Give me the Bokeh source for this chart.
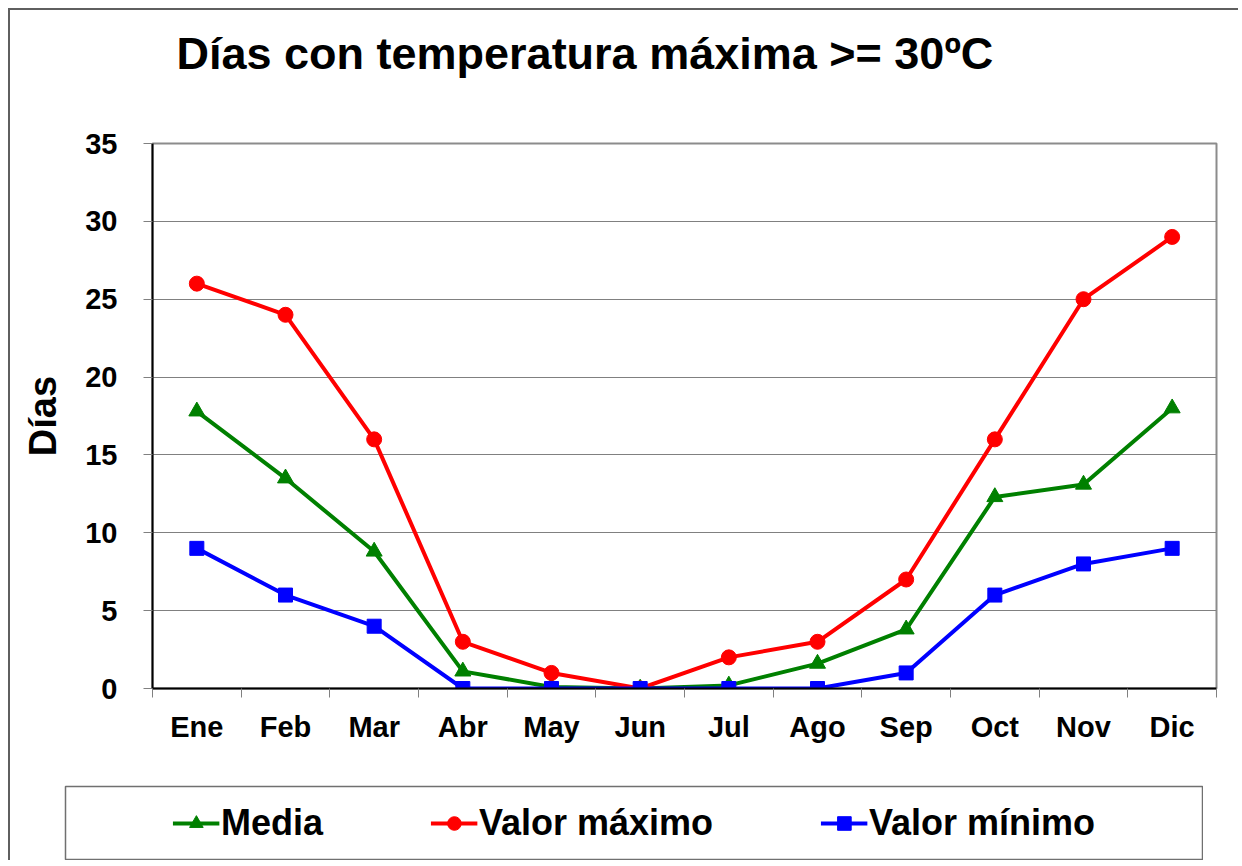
from bokeh.plotting import figure
from bokeh.layouts import column
from bokeh.models import FixedTicker, Legend, LegendItem, Range1d, Label
from bokeh.embed import file_html
from bokeh.resources import INLINE

months = ["Ene", "Feb", "Mar", "Abr", "May", "Jun", "Jul", "Ago", "Sep", "Oct", "Nov", "Dic"]
media = [17.8, 13.5, 8.8, 1.1, 0.1, 0.0, 0.2, 1.6, 3.8, 12.3, 13.1, 18.0]
valor_maximo = [26, 24, 16, 3, 1, 0, 2, 3, 7, 16, 25, 29]
valor_minimo = [9, 6, 4, 0, 0, 0, 0, 0, 1, 6, 8, 9]
y_ticks = [0, 5, 10, 15, 20, 25, 30, 35]
series_names = ["Media", "Valor máximo", "Valor mínimo"]
title_text = "Días con temperatura máxima  >= 30ºC"

FONT = "Liberation Sans"
GREEN, RED, BLUE = "#008000", "#ff0000", "#0000ff"
x = [i + 0.5 for i in range(len(months))]
series = [media, valor_maximo, valor_minimo]
styles = [(GREEN, "triangle", 16), (RED, "circle", 15), (BLUE, "square", 14)]


def no_align(fig):
    try:
        fig.frame_align = False
    except Exception:
        pass


# ---- title strip ----
TW, TH = 1228, 113
tf = figure(width=TW, height=TH, output_backend="svg", toolbar_location=None,
            x_range=Range1d(0, TW), y_range=Range1d(0, TH),
            x_axis_type=None, y_axis_type=None,
            min_border_left=0, min_border_right=0, min_border_top=0, min_border_bottom=0)
no_align(tf)
tf.grid.visible = False
tf.outline_line_color = None
tf.background_fill_color = "white"
tf.border_fill_color = None
tf.add_layout(Label(x=166, y=70, text=title_text, text_font=FONT, text_font_style="bold",
                    text_font_size="45px", text_color="black", text_baseline="alphabetic"))

# ---- main chart ----
p = figure(width=1228, height=662, output_backend="svg", toolbar_location=None,
           x_range=Range1d(0, len(months)), y_range=Range1d(0, 35),
           min_border_left=142, min_border_right=22, min_border_top=20, min_border_bottom=97)
no_align(p)
p.background_fill_color = "white"
p.border_fill_color = "white"
p.outline_line_color = "#8c8c8c"
p.outline_line_width = 2

p.xaxis.ticker = FixedTicker(ticks=x, minor_ticks=list(range(len(months) + 1)))
p.xaxis.major_label_overrides = {xi: m for xi, m in zip(x, months)}
p.xaxis.major_tick_line_color = None
p.xaxis.minor_tick_line_color = "#808080"
p.xaxis.minor_tick_out = 9
p.xaxis.minor_tick_in = 0
p.xaxis.axis_line_color = "black"
p.xaxis.axis_line_width = 2
p.xaxis.major_label_standoff = 13
p.xaxis.major_label_text_font = FONT
p.xaxis.major_label_text_font_style = "bold"
p.xaxis.major_label_text_font_size = "29px"
p.xaxis.major_label_text_color = "black"

p.yaxis.ticker = FixedTicker(ticks=y_ticks, minor_ticks=[])
p.yaxis.major_tick_line_color = "#808080"
p.yaxis.major_tick_out = 9
p.yaxis.major_tick_in = 0
p.yaxis.axis_line_color = "black"
p.yaxis.axis_line_width = 2
p.yaxis.major_label_standoff = 26
p.yaxis.major_label_text_font = FONT
p.yaxis.major_label_text_font_style = "bold"
p.yaxis.major_label_text_font_size = "29px"
p.yaxis.major_label_text_color = "black"
p.yaxis.axis_label = "Días"
p.yaxis.axis_label_text_font = FONT
p.yaxis.axis_label_text_font_style = "bold"
p.yaxis.axis_label_text_font_size = "38px"
p.yaxis.axis_label_text_color = "black"
p.yaxis.axis_label_standoff = 18

p.xgrid.grid_line_color = None
p.ygrid.grid_line_color = "#808080"
p.ygrid.grid_line_width = 1

for vals, (col, mk, sz) in zip(series, styles):
    p.line(x, vals, line_color=col, line_width=4)
    p.scatter(x, vals, marker=mk, size=sz, fill_color=col, line_color=col)

# ---- legend box ----
lg = figure(width=1139, height=75, output_backend="svg", toolbar_location=None,
            x_range=Range1d(100, 101), y_range=Range1d(100, 101),
            x_axis_type=None, y_axis_type=None,
            min_border_left=1, min_border_right=1, min_border_top=1, min_border_bottom=1,
            margin=(0, 0, 0, 54))
no_align(lg)
lg.grid.visible = False
lg.outline_line_color = "#707070"
lg.outline_line_width = 1.5
lg.background_fill_color = "white"
lg.border_fill_color = None
items = []
for name, vals, (col, mk, sz) in zip(series_names, series, styles):
    # series drawn outside this panel's visible range: only their legend entries show
    r1 = lg.line(x, vals, line_color=col, line_width=4)
    r2 = lg.scatter(x, vals, marker=mk, size=sz, fill_color=col, line_color=col)
    items.append(LegendItem(label=name, renderers=[r1, r2]))
legend = Legend(items=items, orientation="horizontal", location="center",
                glyph_width=47, glyph_height=34, label_standoff=2, spacing=107,
                padding=0, margin=0,
                label_text_font=FONT, label_text_font_style="bold", label_text_font_size="36px",
                label_text_color="black",
                border_line_alpha=0, background_fill_alpha=0)
lg.add_layout(legend, "center")

layout = column(tf, p, lg, margin=(8, 0, 0, 8), spacing=0,
                styles={"border-left": "2px solid #5f5f5f", "border-top": "2px solid #5f5f5f"})

open("out.html", "w").write(file_html(layout, INLINE))
